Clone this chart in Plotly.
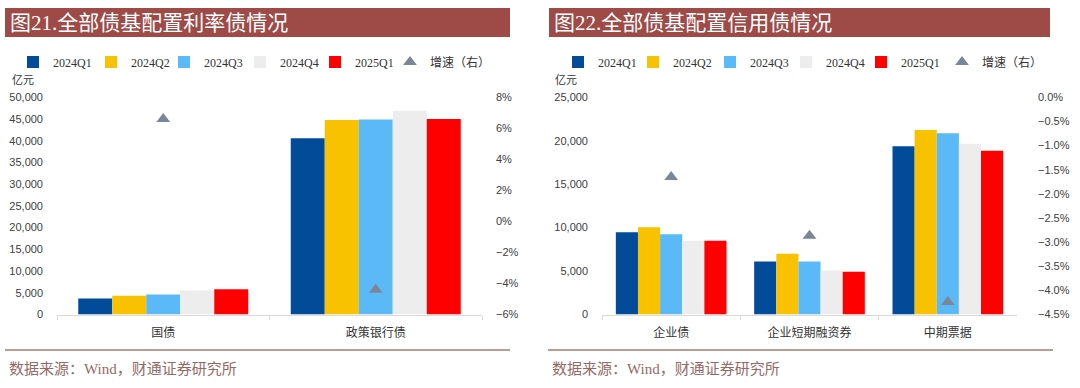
import plotly.graph_objects as go

W, H = 1080, 388

periods = ["2024Q1", "2024Q2", "2024Q3", "2024Q4", "2025Q1"]
bar_colors = ["#024B98", "#F8C200", "#5CB9F8", "#EDEDED", "#FF0000"]

# Panel 1: rate bonds (亿元)
rate_cats = ["国债", "政策银行债"]
rate_2024q1 = [3700, 40600]
rate_2024q2 = [4300, 44800]
rate_2024q3 = [4600, 44900]
rate_2024q4 = [5500, 46900]
rate_2025q1 = [5800, 45000]
rate_growth = [6.6, -4.4]  # %

# Panel 2: credit bonds (亿元)
credit_cats = ["企业债", "企业短期融资券", "中期票据"]
credit_2024q1 = [9470, 6100, 19370]
credit_2024q2 = [10050, 6990, 21250]
credit_2024q3 = [9240, 6100, 20860]
credit_2024q4 = [8480, 5060, 19640]
credit_2025q1 = [8480, 4910, 18840]
credit_growth = [-1.65, -2.87, -4.24]  # %

rate_series = [rate_2024q1, rate_2024q2, rate_2024q3, rate_2024q4, rate_2025q1]
credit_series = [credit_2024q1, credit_2024q2, credit_2024q3, credit_2024q4, credit_2025q1]


def px(x):
    return x / W


def py(y):
    return 1 - y / H


TRI = "#7B8796"
TXT = "#333333"
AXL = "#D9D9D9"
LEG_FONT = dict(family="Liberation Serif, Noto Sans CJK SC", size=12, color=TXT)

# legend item x positions (pixels) for each panel
left_leg_x = [13, 91, 164, 240, 315, 390]
right_leg_x = [558, 633, 710, 786, 861, 942]

fig = go.Figure()
legends = {}
k = 1


def next_legend(x):
    global k
    key = "legend" if k == 1 else f"legend{k}"
    legends[key] = dict(orientation="h", x=px(x), xanchor="left", y=py(62), yanchor="middle",
                        font=LEG_FONT, itemwidth=30, bgcolor="rgba(0,0,0,0)", borderwidth=0,
                        itemclick=False, itemdoubleclick=False, visible=True)
    k += 1
    return key


for i, (name, vals, c) in enumerate(zip(periods, rate_series, bar_colors)):
    fig.add_trace(go.Bar(x=rate_cats, y=vals, name=name, marker=dict(color=c, line=dict(width=0)),
                         xaxis="x", yaxis="y", legend=next_legend(left_leg_x[i]), showlegend=True))
fig.add_trace(go.Scatter(x=rate_cats, y=rate_growth, name="增速（右）", mode="markers",
                         marker=dict(symbol="triangle-up", size=12, color=TRI),
                         xaxis="x", yaxis="y2", legend=next_legend(left_leg_x[5]), showlegend=True))

for i, (name, vals, c) in enumerate(zip(periods, credit_series, bar_colors)):
    fig.add_trace(go.Bar(x=credit_cats, y=vals, name=name, marker=dict(color=c, line=dict(width=0)),
                         xaxis="x2", yaxis="y3", legend=next_legend(right_leg_x[i]), showlegend=True))
fig.add_trace(go.Scatter(x=credit_cats, y=credit_growth, name="增速（右）", mode="markers",
                         marker=dict(symbol="triangle-up", size=12, color=TRI),
                         xaxis="x2", yaxis="y4", legend=next_legend(right_leg_x[5]), showlegend=True))

ydom = [py(314.5), py(97.3)]
tickfont = dict(family="Liberation Sans, Noto Sans CJK SC", size=11, color="#404040")
catfont = dict(family="Noto Sans CJK SC", size=12, color=TXT)

xcommon = dict(type="category", showline=True, linecolor=AXL, linewidth=1, ticks="outside",
               tickson="boundaries", ticklen=4, tickcolor=AXL, showgrid=False, tickfont=catfont,
               ticklabelstandoff=7, automargin=False)
ycommon = dict(showgrid=False, zeroline=False, tickfont=tickfont, ticks="", automargin=False,
               showline=False)

fig.update_layout(
    template="none",
    showlegend=True,
    width=W, height=H, margin=dict(l=0, r=0, t=0, b=0, pad=0),
    paper_bgcolor="white", plot_bgcolor="white",
    barmode="group", bargap=0.2, bargroupgap=0,
    xaxis=dict(domain=[px(57), px(482)], anchor="y", **xcommon),
    yaxis=dict(domain=ydom, range=[0, 50000], dtick=5000, tickformat=",", ticklabelstandoff=13, **ycommon),
    yaxis2=dict(overlaying="y", side="right", anchor="x", range=[-6, 8], dtick=2, ticksuffix="%",
                ticklabelstandoff=13, **ycommon),
    xaxis2=dict(domain=[px(602), px(1017)], anchor="y3", **xcommon),
    yaxis3=dict(domain=ydom, anchor="x2", range=[0, 25000], dtick=5000, tickformat=",",
                ticklabelstandoff=13, **ycommon),
    yaxis4=dict(overlaying="y3", side="right", anchor="x2", range=[-4.5, 0], dtick=0.5, tickformat=".1f",
                ticksuffix="%", ticklabelstandoff=20, **ycommon),
    **legends,
)

BANNER = "#9E4B47"
shapes = []
annotations = []
for x0, x1, title in [(5, 510, "图21.全部债基配置利率债情况"), (549, 1050, "图22.全部债基配置信用债情况")]:
    shapes.append(dict(type="rect", xref="paper", yref="paper", x0=px(x0), x1=px(x1),
                       y0=py(37), y1=py(8), fillcolor=BANNER, line=dict(width=0), layer="below"))
    annotations.append(dict(xref="paper", yref="paper", x=px(x0 + 3), y=py(22.5), xanchor="left",
                            yanchor="middle", text=title, showarrow=False,
                            font=dict(family="Liberation Serif, Noto Sans CJK SC", size=21, color="white")))
for x0, x1 in [(5, 510), (548, 1053)]:
    shapes.append(dict(type="line", xref="paper", yref="paper", x0=px(x0), x1=px(x1),
                       y0=py(350), y1=py(350), line=dict(color="#A57A76", width=1.5)))
for x0 in [7, 550]:
    annotations.append(dict(xref="paper", yref="paper", x=px(x0), y=py(369), xanchor="left",
                            yanchor="middle", text="数据来源：Wind，财通证券研究所", showarrow=False,
                            font=dict(family="Liberation Serif, Noto Sans CJK SC", size=15, color="#946A66")))
for x0 in [10, 553]:
    annotations.append(dict(xref="paper", yref="paper", x=px(x0), y=py(79), xanchor="left",
                            yanchor="middle", text="亿元", showarrow=False,
                            font=dict(family="Noto Sans CJK SC", size=11, color=TXT)))

fig.update_layout(shapes=shapes, annotations=annotations)
fig.write_html("out.html", config={"displayModeBar": False},
               post_script="document.body.style.margin='0';document.body.style.padding='0';")
